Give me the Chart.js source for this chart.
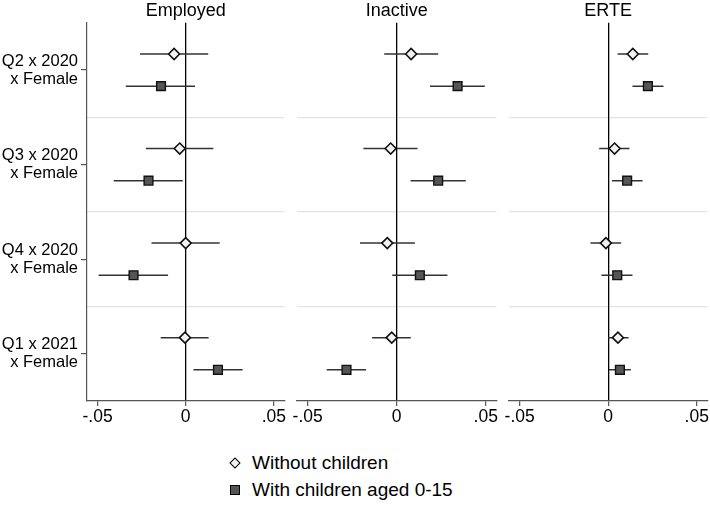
<!DOCTYPE html>
<html>
<head>
<meta charset="utf-8">
<script src="https://cdn.jsdelivr.net/npm/chart.js@4.4.0/dist/chart.umd.min.js"></script>
<style>
  body { margin: 0; background: #fff; }
  #wrap { position: relative; width: 710px; height: 508px; overflow: hidden; font-family: "Liberation Sans", Arial, sans-serif; }
  canvas { position: absolute; top: 0; }
  #c1 { left: 0; }
  #c2 { left: 285px; }
  #c3 { left: 497px; }
  .leg { position: absolute; left: 252px; font-size: 19px; line-height: 20px; color: #000; white-space: nowrap; }
  .mk { position: absolute; box-sizing: border-box; }
  .dia { width: 8px; height: 8px; border: 1.6px solid #000; background: #f2f2f2; transform: rotate(45deg); }
  .sq { width: 10px; height: 10px; border: 1.4px solid #000; background: #555; }
</style>
</head>
<body>
<div id="wrap">
  <canvas id="c1" width="292" height="431" style="width:292px;height:431px"></canvas>
  <canvas id="c2" width="219" height="431" style="width:219px;height:431px"></canvas>
  <canvas id="c3" width="218" height="431" style="width:218px;height:431px"></canvas>

  <div class="mk dia" style="left:231px; top:459px"></div>
  <div class="leg" style="top:453px">Without children</div>
  <div class="mk sq" style="left:230px; top:485px"></div>
  <div class="leg" style="top:480px">With children aged 0-15</div>
</div>

<script>
// rows, top to bottom
const categories = [
  ["Q2 x 2020", "x Female"],
  ["Q3 x 2020", "x Female"],
  ["Q4 x 2020", "x Female"],
  ["Q1 x 2021", "x Female"]
];
const xTickValues = [-0.05, 0, 0.05];
const xTickLabels = ["-.05", "0", ".05"];
const seriesNames = ["Without children", "With children aged 0-15"];

// Employed
const employedNoKids   = [-0.0066, -0.0034,  0.0000, -0.0004];
const employedNoKidsLo = [-0.0259, -0.0226, -0.0194, -0.0142];
const employedNoKidsHi = [ 0.0128,  0.0157,  0.0193,  0.0130];
const employedKids     = [-0.0140, -0.0211, -0.0296,  0.0183];
const employedKidsLo   = [-0.0340, -0.0408, -0.0494,  0.0044];
const employedKidsHi   = [ 0.0053, -0.0017, -0.0100,  0.0323];

// Inactive
const inactiveNoKids   = [ 0.0081, -0.0034, -0.0053, -0.0028];
const inactiveNoKidsLo = [-0.0070, -0.0187, -0.0206, -0.0138];
const inactiveNoKidsHi = [ 0.0233,  0.0117,  0.0102,  0.0079];
const inactiveKids     = [ 0.0342,  0.0233,  0.0130, -0.0282];
const inactiveKidsLo   = [ 0.0187,  0.0078, -0.0025, -0.0393];
const inactiveKidsHi   = [ 0.0495,  0.0388,  0.0285, -0.0172];

// ERTE
const erteNoKids   = [ 0.0139,  0.0036, -0.0013,  0.0055];
const erteNoKidsLo = [ 0.0053, -0.0051, -0.0100,  0.0000];
const erteNoKidsHi = [ 0.0226,  0.0120,  0.0073,  0.0115];
const erteKids     = [ 0.0224,  0.0107,  0.0051,  0.0066];
const erteKidsLo   = [ 0.0137,  0.0021, -0.0038,  0.0004];
const erteKidsHi   = [ 0.0312,  0.0194,  0.0137,  0.0128];

const FONT = "'Liberation Sans', Arial, sans-serif";
const rowShift = [-0.17, 0.17]; // diamond above, square below the row centre

function buildDatasets(noKids, noLo, noHi, kids, kLo, kHi) {
  const ds = [];
  const groups = [[noKids, noLo, noHi], [kids, kLo, kHi]];
  groups.forEach(([est, lo, hi], s) => {
    // CI whiskers
    est.forEach((_, i) => {
      const y = i + 0.5 + rowShift[s];
      ds.push({
        data: [{ x: lo[i], y }, { x: hi[i], y }],
        showLine: true,
        borderColor: "#333",
        borderWidth: 1.5,
        pointRadius: 0,
        order: 2
      });
    });
    // point estimates
    ds.push({
      label: seriesNames[s],
      data: est.map((v, i) => ({ x: v, y: i + 0.5 + rowShift[s] })),
      pointStyle: s === 0 ? "rectRot" : "rect",
      pointRadius: s === 0 ? 5.5 : 6.2,
      pointBackgroundColor: s === 0 ? "#f2f2f2" : "#555555",
      pointBorderColor: "#111",
      pointBorderWidth: s === 0 ? 1.6 : 1.4,
      order: 0
    });
  });
  return ds;
}

function makePanel(id, title, datasets, showY, padding) {
  const ctx = document.getElementById(id).getContext("2d");
  return new Chart(ctx, {
    type: "scatter",
    data: { datasets },
    options: {
      responsive: false,
      animation: false,
      events: [],
      layout: { padding },
      plugins: {
        legend: { display: false },
        tooltip: { enabled: false },
        title: {
          display: true,
          text: title,
          fullSize: false,
          color: "#000",
          font: { family: FONT, size: 18, weight: "normal", lineHeight: 1.1 },
          padding: { top: 1, bottom: 2 }
        }
      },
      scales: {
        ySep: {
          type: "linear",
          position: "left",
          min: 0, max: 4, reverse: true,
          afterBuildTicks: (s) => { s.ticks = [1, 2, 3].map(v => ({ value: v })); },
          afterFit: (s) => { s.width = 0; },
          ticks: { display: false },
          grid: { drawTicks: false, color: "#e4e4e4", lineWidth: 1.3 },
          border: { display: false }
        },
        y: {
          type: "linear",
          position: "left",
          display: showY,
          min: 0, max: 4, reverse: true,
          afterBuildTicks: (s) => { s.ticks = categories.map((_, i) => ({ value: i + 0.5 })); },
          afterFit: (s) => { s.width = showY ? 87 : 0; },
          ticks: {
            color: "#000",
            padding: 3,
            font: { family: FONT, size: 16.5, lineHeight: 1.08 },
            callback: (v, i) => categories[i]
          },
          grid: { drawOnChartArea: false, tickLength: 6, color: "#555", lineWidth: 1.2 },
          border: { color: "#555", width: 1.2 }
        },
        x: {
          type: "linear",
          min: -0.056, max: 0.056,
          afterBuildTicks: (s) => { s.ticks = xTickValues.map(v => ({ value: v })); },
          afterFit: (s) => { s.height = 30; },
          ticks: {
            color: "#000",
            padding: 1,
            font: { family: FONT, size: 17.5 },
            callback: (v, i) => xTickLabels[i]
          },
          grid: {
            drawOnChartArea: true,
            tickLength: 5,
            color: (c) => (c.tick && c.tick.value === 0 ? "#000" : "rgba(0,0,0,0)"),
            lineWidth: 1.3,
            tickColor: "#555",
            tickWidth: 1.2
          },
          border: { color: "#555", width: 1.2 }
        }
      }
    }
  });
}

makePanel("c1", "Employed",
  buildDatasets(employedNoKids, employedNoKidsLo, employedNoKidsHi, employedKids, employedKidsLo, employedKidsHi),
  true, { left: 0, right: 0, top: 0, bottom: 0 });
makePanel("c2", "Inactive",
  buildDatasets(inactiveNoKids, inactiveNoKidsLo, inactiveNoKidsHi, inactiveKids, inactiveKidsLo, inactiveKidsHi),
  false, { left: 12, right: 0, top: 0, bottom: 0 });
makePanel("c3", "ERTE",
  buildDatasets(erteNoKids, erteNoKidsLo, erteNoKidsHi, erteKids, erteKidsLo, erteKidsHi),
  false, { left: 12, right: 0, top: 0, bottom: 0 });
</script>
</body>
</html>
